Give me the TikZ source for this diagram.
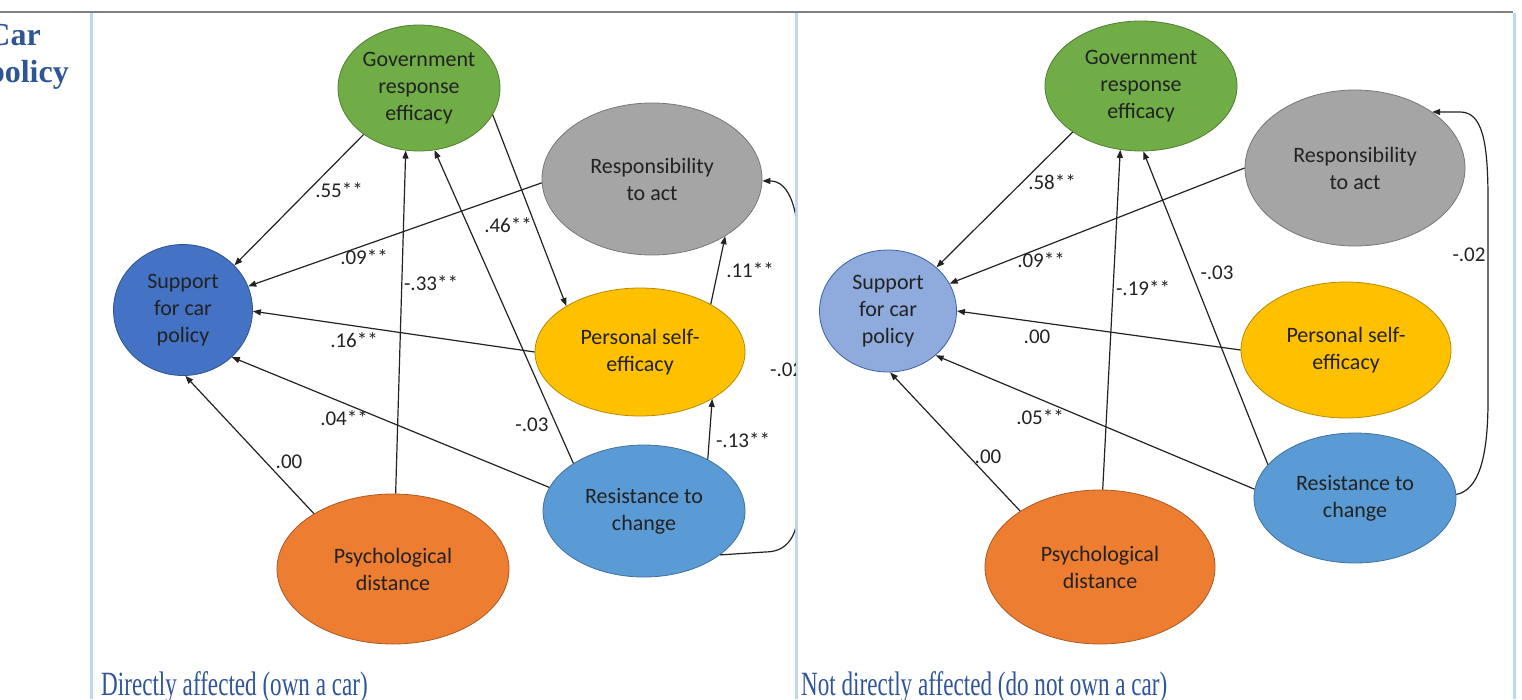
\documentclass[tikz,border=0pt]{standalone}
\usepackage{fontspec}
\setmainfont{Liberation Serif}
\newfontfamily\calib{Carlito}
\usetikzlibrary{shapes.geometric,arrows.meta}

\definecolor{cGreen}{HTML}{70AD47}
\definecolor{cGray}{HTML}{A5A5A5}
\definecolor{cBlue}{HTML}{4472C4}
\definecolor{cYellow}{HTML}{FFC000}
\definecolor{cLBlue}{HTML}{5B9BD5}
\definecolor{cOrange}{HTML}{ED7D31}
\definecolor{cPale}{HTML}{8FAADC}
\definecolor{ruleGray}{HTML}{808080}
\definecolor{ruleBlue}{HTML}{BDD7EE}
\definecolor{capBlue}{HTML}{2F5597}
\definecolor{ink}{HTML}{222222}

\begin{document}
\begin{tikzpicture}[x=1pt,y=-1pt,
  latent/.style={ellipse, fill=#1, draw=#1!72!black, line width=0.8pt,
    inner sep=0pt, align=center, text=ink,
    font=\calib\fontsize{22}{27}\selectfont},
  effect/.style={-{Triangle[length=8pt,width=6pt]}, line width=1.2pt, draw=ink},
  coef/.style={font=\calib\fontsize{21}{25}\selectfont, text=ink, inner sep=0pt},
  caption/.style={anchor=base west, inner sep=0pt, text=capBlue,
    font=\fontsize{34}{40}\selectfont},
  rowhead/.style={anchor=base east, inner sep=0pt, text=capBlue,
    font=\bfseries\fontsize{32}{37}\selectfont},
]
\useasboundingbox (0,0) rectangle (1522,699);
\clip (0,0) rectangle (1522,699);

% table rules
\draw[ruleGray, line width=2.2pt] (0,12) -- (1513,12);
\foreach \xx in {91,796,1514}
  \draw[ruleBlue, line width=3pt] (\xx,13) -- (\xx,699);

% row heading
\node[rowhead] (hcar) at (41,45) {Car};
\node[rowhead] (hpol) at (69,82) {policy};

% ---------- left model: car owners ----------
\begin{scope}
\clip (93,14) rectangle (795,699);
\node[latent=cGreen,  minimum width=162pt, minimum height=126pt] (G)  at (419,88)  {Government\\response\\efficacy};
\node[latent=cGray,   minimum width=220pt, minimum height=152pt] (R)  at (652,179) {Responsibility\\to act};
\node[latent=cBlue,   minimum width=139pt, minimum height=131pt] (S)  at (183,310) {Support\\for car\\policy};
\node[latent=cYellow, minimum width=210pt, minimum height=128pt] (P)  at (640,352) {Personal self-\\efficacy};
\node[latent=cLBlue,  minimum width=202pt, minimum height=132pt] (Rc) at (644,511) {Resistance to\\change};
\node[latent=cOrange, minimum width=232pt, minimum height=150pt] (D)  at (393,569) {Psychological\\distance};

\draw[effect] (G.220)  -- (S.41);
\draw[effect] (R.182)  -- (S.20);
\draw[effect] (P.180)  -- (S.-1);
\draw[effect] (Rc.166) -- (S.-44);
\draw[effect] (D.145)  -- (S.-88);
\draw[effect] (D.88)   -- (G.258);
\draw[effect] (Rc.146) -- (G.284);
\draw[effect] (G.-20)  -- (P.148);
\draw[effect] (P.34)   -- (R.-38);
\draw[effect] (Rc.39)  -- (P.-33);
\draw[effect] (Rc.-30) -- (765,552) .. controls (792,552) and (800,530) .. (800,490)
  -- (800,270) .. controls (800,210) and (790,181) .. (R.-1);

\node[coef] (a1)  at (339,190) {.55**};
\node[coef] (a2)  at (364,257) {.09**};
\node[coef] (a3)  at (354,340) {.16**};
\node[coef] (a4)  at (344,418) {.04**};
\node[coef] (a5)  at (289,462) {.00};
\node[coef] (a6)  at (431,283) {-.33**};
\node[coef] (a7)  at (532,425) {-.03};
\node[coef] (a8)  at (508,225) {.46**};
\node[coef] (a9)  at (750,270) {.11**};
\node[coef] (a10) at (743,440) {-.13**};
\node[coef, anchor=west] (a11) at (770,370) {-.02};
\end{scope}

% ---------- right model: non-owners ----------
\begin{scope}
\clip (798,14) rectangle (1512,699);
\node[latent=cGreen,  minimum width=192pt, minimum height=130pt] (G2)  at (1141,86)  {Government\\response\\efficacy};
\node[latent=cGray,   minimum width=220pt, minimum height=156pt] (R2)  at (1355,168) {Responsibility\\to act};
\node[latent=cPale, draw=cBlue!85!black, minimum width=137pt, minimum height=122pt] (S2) at (888,311) {Support\\for car\\policy};
\node[latent=cYellow, minimum width=210pt, minimum height=136pt] (P2)  at (1346,350) {Personal self-\\efficacy};
\node[latent=cLBlue,  minimum width=202pt, minimum height=130pt] (Rc2) at (1355,498) {Resistance to\\change};
\node[latent=cOrange, minimum width=230pt, minimum height=154pt] (D2)  at (1100,567) {Psychological\\distance};

\draw[effect] (G2.214)  -- (S2.42);
\draw[effect] (R2.180)  -- (S2.24);
\draw[effect] (P2.180)  -- (S2.0);
\draw[effect] (Rc2.175) -- (S2.-43);
\draw[effect] (D2.145)  -- (S2.-88);
\draw[effect] (D2.88)   -- (G2.252);
\draw[effect] (Rc2.159) -- (G2.272);
\draw[effect] (Rc2.2) .. controls (1478,490) and (1488,460) .. (1488,400)
  -- (1488,200) .. controls (1488,140) and (1482,112) .. (1460,112) -- (R2.36);

\node[coef] (b1) at (1052,182) {.58**};
\node[coef] (b2) at (1041,260) {.09**};
\node[coef] (b3) at (1037,337) {.00};
\node[coef] (b4) at (1040,417) {.05**};
\node[coef] (b5) at (988,457)  {.00};
\node[coef] (b6) at (1143,288) {-.19**};
\node[coef] (b7) at (1217,273) {-.03};
\node[coef] (b8) at (1469,255) {-.02};
\end{scope}

% panel captions
\node[caption] (c1) at (101,695) {\scalebox{0.68}[1]{Directly affected (own a car)}};
\node[caption] (c2) at (801,695) {\scalebox{0.68}[1]{Not directly affected (do not own a car)}};
\end{tikzpicture}
\end{document}
